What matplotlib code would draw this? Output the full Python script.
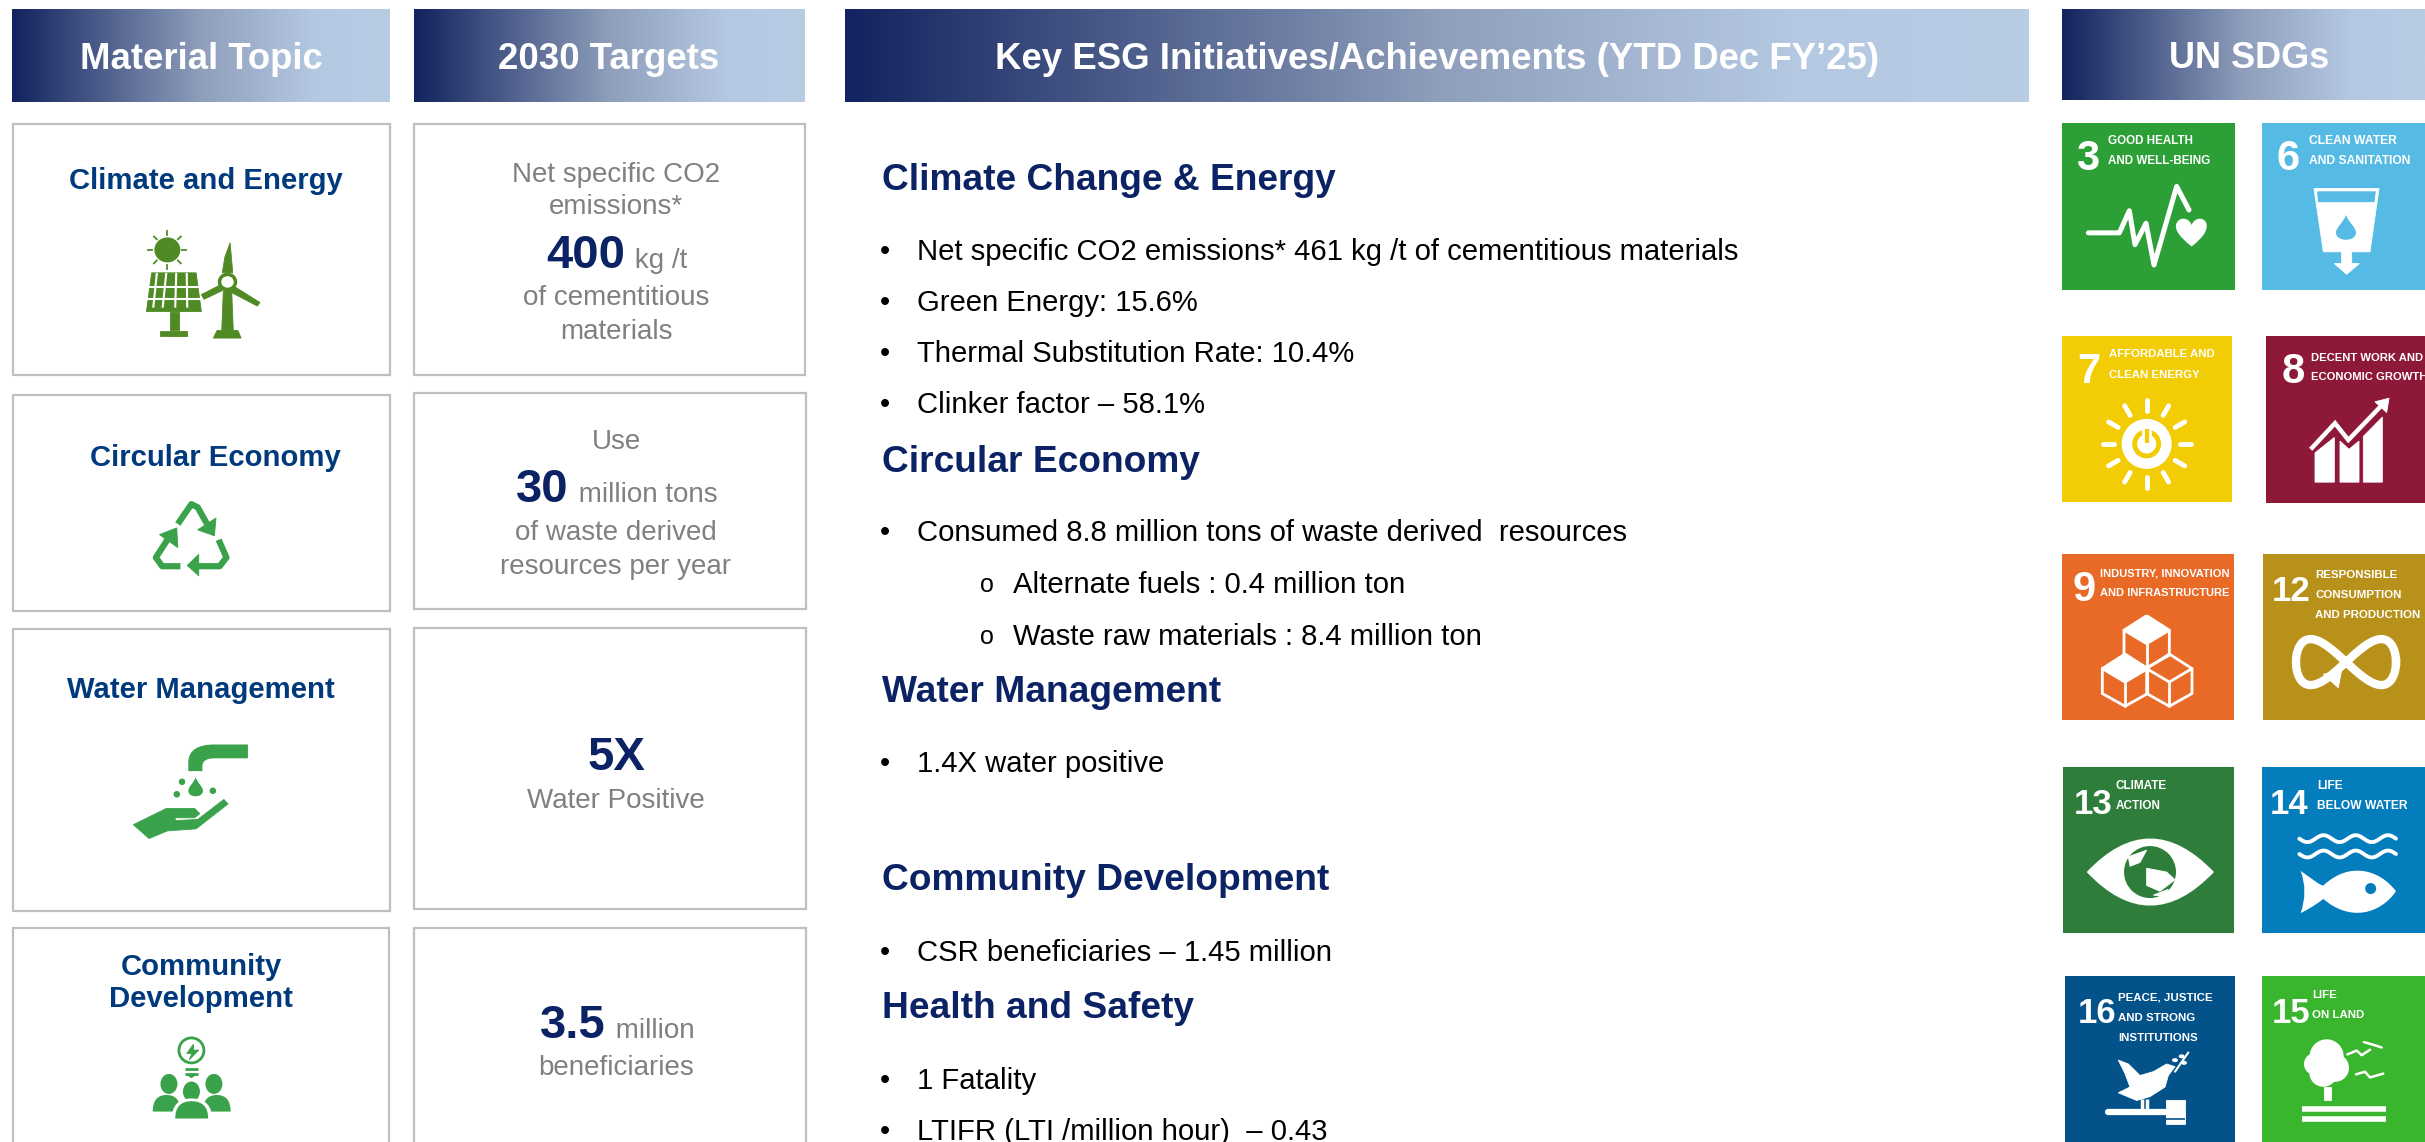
import numpy as np
import matplotlib
matplotlib.use('Agg')
import matplotlib.pyplot as plt
from matplotlib.colors import LinearSegmentedColormap
from matplotlib.patches import Circle, Ellipse, PathPatch, Polygon, Rectangle
from matplotlib.path import Path

plt.rcParams['font.family'] = ['Liberation Sans', 'DejaVu Sans']

NAVY = '#0B2265'
TITLE_BLUE = '#003A7D'
GREY = '#808080'
BORDER = '#BFBFBF'
GREEN = '#3AA24A'
DARK_GREEN = '#4F8A24'

# テキスト
header_labels = ['Material Topic', '2030 Targets',
                 'Key ESG Initiatives/Achievements (YTD Dec FY’25)', 'UN SDGs']
topic_labels = ['Climate and Energy', 'Circular Economy', 'Water Management',
                'Community\nDevelopment']
target_big = ['400', '30', '5X', '3.5']
target_unit = [' kg /t', ' million tons', '', ' million']
target_above = ['Net specific CO2\nemissions*', 'Use', '', '']
target_below = ['of cementitious\nmaterials', 'of waste derived\nresources per year',
                'Water Positive', 'beneficiaries']

section_titles = ['Climate Change & Energy', 'Circular Economy', 'Water Management',
                  'Community Development', 'Health and Safety']
section_lines = [
    ['Net specific CO2 emissions* 461 kg /t of cementitious materials',
     'Green Energy: 15.6%',
     'Thermal Substitution Rate: 10.4%',
     'Clinker factor – 58.1%'],
    ['Consumed 8.8 million tons of waste derived  resources',
     '>Alternate fuels : 0.4 million ton',
     '>Waste raw materials : 8.4 million ton'],
    ['1.4X water positive'],
    ['CSR beneficiaries – 1.45 million'],
    ['1 Fatality',
     'LTIFR (LTI /million hour)  – 0.43'],
]

sdg_numbers = ['3', '6', '7', '8', '9', '12', '13', '14', '16', '15']
sdg_labels = [
    'GOOD HEALTH\nAND WELL-BEING', 'CLEAN WATER\nAND SANITATION',
    'AFFORDABLE AND\nCLEAN ENERGY', 'DECENT WORK AND\nECONOMIC GROWTH',
    'INDUSTRY, INNOVATION\nAND INFRASTRUCTURE', 'RESPONSIBLE\nCONSUMPTION\nAND PRODUCTION',
    'CLIMATE\nACTION', 'LIFE\nBELOW WATER',
    'PEACE, JUSTICE\nAND STRONG\nINSTITUTIONS', 'LIFE\nON LAND',
]
sdg_colors = ['#2CA036', '#56BBE4', '#F2CC04', '#8E1838', '#E96A27',
              '#B8911A', '#2E7D3A', '#047DBD', '#03528A', '#39B52E']

fig = plt.figure(figsize=(24.25, 11.42), dpi=100)
ax = fig.add_axes([0, 0, 1, 1])
ax.set_xlim(0, 2425)
ax.set_ylim(1142, 0)
ax.axis('off')
renderer = fig.canvas.get_renderer()

# ズーム画像の座標をピクセルに変換
def z1(x, y):
    return (x / 1.912, y / 2.529)

def z2(x, y):
    return (x / 1.912, 600 + y / 2.893)

def z3(x, y):
    return (2040 + x / 3, y / 2.8)

def z4(x, y):
    return (2040 + x / 3, 540 + y / 2.605)


def poly(pts, z, color='white', zorder=3):
    ax.add_patch(Polygon([z(*p) for p in pts], closed=True, fc=color, ec=color, lw=0.6, zorder=zorder))


def line(pts, z, lw, color='white', zorder=3, cap='round', join='miter'):
    xy = np.array([z(*p) for p in pts])
    ax.plot(xy[:, 0], xy[:, 1], color=color, lw=lw, zorder=zorder,
            solid_capstyle=cap, solid_joinstyle=join)


def curve(verts, codes, z, color='white', zorder=3):
    path = Path([z(*v) for v in verts], codes)
    ax.add_patch(PathPatch(path, fc=color, ec='none', zorder=zorder))


def drop(x, y, w, h, z, color, zorder=3):
    # 水滴
    M, C, CL = Path.MOVETO, Path.CURVE4, Path.CLOSEPOLY
    curve([(x, y - h), (x + w * 0.3, y - h * 0.4), (x + w, y - h * 0.1), (x + w, y + h * 0.3),
           (x + w, y + h), (x - w, y + h), (x - w, y + h * 0.3),
           (x - w, y - h * 0.1), (x - w * 0.3, y - h * 0.4), (x, y - h), (x, y - h)],
          [M, C, C, C, C, C, C, C, C, C, CL], z, color, zorder)


# ヘッダーのグラデーション
cmap = LinearSegmentedColormap.from_list('hdr', [(0, '#12235F'), (0.5, '#8E9EBB'),
                                                 (0.8, '#B5C8E2'), (1, '#B8CCE4')])
grad = np.linspace(0, 1, 256).reshape(1, -1)
header_boxes = [(12, 390, 9, 102), (414, 805, 9, 102), (845, 2029, 9, 102), (2062, 2425, 9, 100)]
header_cx = [201, 609, 1437, 2249]
header_size = [26.3, 26.4, 26.35, 26]
for label, (x0, x1, y0, y1), cx, fs in zip(header_labels, header_boxes, header_cx, header_size):
    ax.imshow(grad, cmap=cmap, extent=(x0, x1, y1, y0), aspect='auto', zorder=1)
    ax.text(cx, (y0 + y1) / 2 + 4, label, color='white', fontsize=fs, fontweight='bold',
            ha='center', va='center', zorder=2)
ax.set_xlim(0, 2425)
ax.set_ylim(1142, 0)

# カード
topic_boxes = [(13, 390, 124, 375), (13, 390, 395, 611), (13, 390, 629, 911), (13, 389, 928, 1160)]
target_boxes = [(414, 805, 124, 375), (414, 806, 393, 609), (414, 806, 628, 909), (414, 806, 928, 1160)]
for x0, x1, y0, y1 in topic_boxes + target_boxes:
    ax.add_patch(Rectangle((x0, y0), x1 - x0, y1 - y0, fc='white', ec=BORDER, lw=1.6, zorder=1))

topic_x = [206, 215, 201, 201]
topic_y = [181, 458, 690, 983]
for label, x, y in zip(topic_labels, topic_x, topic_y):
    ax.text(x, y, label, color=TITLE_BLUE, fontsize=21.1, fontweight='bold', ha='center',
            va='center', linespacing=1.2)

# 目標の数値と説明
target_cx = 616
big_base = [268, 502, 770, 1038]
above_y = [[175, 207], [442], [], []]
below_y = [[298, 332], [533, 567], [801], [1068]]
for i in range(4):
    big = ax.text(0, big_base[i], target_big[i], color=NAVY, fontsize=34, fontweight='bold',
                  ha='left', va='baseline')
    unit = ax.text(0, big_base[i], target_unit[i], color=GREY, fontsize=20, ha='left', va='baseline')
    w_big = big.get_window_extent(renderer).width
    w_unit = unit.get_window_extent(renderer).width if target_unit[i] else 0
    x_start = target_cx - (w_big + w_unit) / 2
    big.set_x(x_start)
    unit.set_x(x_start + w_big + 2)
    if target_above[i]:
        for txt, y in zip(target_above[i].split('\n'), above_y[i]):
            ax.text(target_cx, y, txt, color=GREY, fontsize=20, ha='center', va='center')
    for txt, y in zip(target_below[i].split('\n'), below_y[i]):
        ax.text(target_cx, y, txt, color=GREY, fontsize=20, ha='center', va='center')

# 中央のテキスト
section_y = [181, 462, 693, 880, 1008]
line_y = [[252, 303, 354, 405], [533, 585, 637], [764], [953], [1081, 1132]]
for title, y, lines, ys in zip(section_titles, section_y, section_lines, line_y):
    ax.text(882, y, title, color=NAVY, fontsize=26.7, fontweight='bold', ha='left', va='center')
    for txt, ly in zip(lines, ys):
        if txt.startswith('>'):
            ax.text(987, ly, 'o', color='black', fontsize=18, ha='center', va='center')
            ax.text(1013, ly, txt[1:], color='black', fontsize=21.1, ha='left', va='center')
        else:
            ax.text(885, ly, '•', color='black', fontsize=21, ha='center', va='center')
            ax.text(917, ly, txt, color='black', fontsize=21.1, ha='left', va='center')

# 左のアイコン: 太陽光と風車
ax.add_patch(Ellipse(z1(320, 632), 26, 25, fc=DARK_GREEN, ec='none', zorder=3))
for a in np.arange(0, 360, 45):
    cx, cy = z1(320, 632)
    ax.plot([cx + 15 * np.cos(np.radians(a)), cx + 19 * np.cos(np.radians(a))],
            [cy + 15 * np.sin(np.radians(a)), cy + 19 * np.sin(np.radians(a))],
            color=DARK_GREEN, lw=1.3, zorder=3)
poly([(290, 690), (375, 690), (385, 788), (280, 788)], z1, DARK_GREEN)
for fy in [725, 755]:
    line([(280, fy), (385, fy)], z1, 1.5, 'white', 4, 'butt')
for fx in [(300, 293), (318, 311), (337, 335), (357, 358)]:
    line([(fx[0], 690), (fx[1], 778)], z1, 1.5, 'white', 4, 'butt')
poly([(325, 790), (342, 790), (342, 835), (325, 835)], z1, DARK_GREEN)
poly([(306, 837), (358, 837), (358, 850), (306, 850)], z1, DARK_GREEN)
poly([(427, 735), (443, 735), (446, 835), (424, 835)], z1, DARK_GREEN)
poly([(408, 855), (415, 836), (455, 836), (461, 855)], z1, DARK_GREEN)
poly([(440, 614), (445, 690), (425, 690), (430, 650)], z1, DARK_GREEN)
poly([(445, 722), (497, 765), (492, 774), (440, 738)], z1, DARK_GREEN)
poly([(425, 718), (385, 745), (390, 757), (425, 735)], z1, DARK_GREEN)
ax.add_patch(Ellipse(z1(435, 713), 16, 15, fc='white', ec=DARK_GREEN, lw=2.5, zorder=4))

# 左のアイコン: リサイクル
line([(340, 1325), (366, 1275), (378, 1283), (400, 1335)], z1, 4.5, GREEN, 3, 'butt', 'round')
poly([(413, 1310), (410, 1355), (378, 1340)], z1, GREEN)
line([(345, 1432), (310, 1432), (298, 1410), (325, 1355)], z1, 4.5, GREEN, 3, 'butt', 'round')
poly([(338, 1335), (340, 1385), (305, 1352)], z1, GREEN)
line([(418, 1365), (433, 1410), (420, 1432), (378, 1432)], z1, 4.5, GREEN, 3, 'butt', 'round')
poly([(380, 1402), (380, 1456), (358, 1430)], z1, GREEN)

# 左のアイコン: 水と手
M, L, Q, CL = Path.MOVETO, Path.LINETO, Path.CURVE3, Path.CLOSEPOLY
curve([(474, 418), (474, 458), (410, 458), (387, 458), (387, 480), (387, 495), (360, 495),
       (360, 470), (360, 418), (410, 418), (474, 418)],
      [M, L, L, Q, Q, L, L, L, Q, Q, CL], z2, GREEN)
drop(374, 543, 14, 30, z2, GREEN)
for p in [(348, 526), (338, 562), (407, 552)]:
    ax.add_patch(Ellipse(z2(*p), 6.5, 6.5, fc=GREEN, ec='none', zorder=3))
poly([(255, 650), (318, 603), (372, 603), (382, 618), (372, 630), (335, 630), (335, 638),
      (378, 635), (428, 577), (436, 590), (375, 662), (320, 668), (285, 690)], z2, GREEN)

# 左のアイコン: コミュニティ
ax.add_patch(Ellipse(z2(366, 1303), 25, 25, fc='white', ec=GREEN, lw=2, zorder=3))
poly([(370, 1285), (357, 1312), (367, 1312), (362, 1330), (380, 1302), (370, 1302)], z2, GREEN)
for yy in [1358, 1370]:
    line([(354, yy), (378, yy)], z2, 2, GREEN, 3, 'butt')
poly([(358, 1374), (374, 1374), (366, 1382)], z2, GREEN)
for p, h in [((323, 1400), 20), ((409, 1400), 20), ((366, 1422), 20)]:
    ax.add_patch(Ellipse(z2(*p), 17, h, fc=GREEN, ec='none', zorder=3))
for x0, x1, y0, y1 in [(292, 345, 1432, 1480), (388, 441, 1432, 1480)]:
    curve([(x0, y1), (x0, y0), ((x0 + x1) / 2, y0), (x1, y0), (x1, y1), (x0, y1)],
          [M, Q, Q, Q, Q, CL], z2, GREEN)
curve([(328, 1505), (328, 1442), (366, 1442), (406, 1442), (406, 1505), (328, 1505)],
      [M, Q, Q, Q, Q, CL], z2, 'white', 4)
curve([(335, 1500), (335, 1450), (366, 1450), (398, 1450), (398, 1500), (335, 1500)],
      [M, Q, Q, Q, Q, CL], z2, GREEN, 5)

# SDGタイル
tile_boxes = [(2062, 2235, 123, 290), (2262, 2425, 123, 290),
              (2062, 2232, 336, 502), (2266, 2425, 336, 503),
              (2062, 2234, 554, 720), (2263, 2425, 554, 720),
              (2063, 2234, 767, 933), (2262, 2425, 767, 933),
              (2065, 2235, 976, 1150), (2262, 2425, 976, 1150)]
num_x = [2076, 2276, 2077, 2282, 2072, 2272, 2074, 2270, 2078, 2272]
lab_x = [2108, 2309, 2109, 2311, 2100, 2315, 2116, 2317, 2118, 2312]
lab_width = [101, 101, 106, 112, 129, 105, 51, 90, 94, 52]
lab_step = [20, 20, 21, 19.5, 20, 20, 20, 20, 20, 20]
lab_top = [141, 141, 354, 358, 573, 575, 786, 786, 998, 995]
for i, (x0, x1, y0, y1) in enumerate(tile_boxes):
    ax.add_patch(Rectangle((x0, y0), x1 - x0, y1 - y0, fc=sdg_colors[i], ec='none', zorder=2))
    num_size = 30 if len(sdg_numbers[i]) == 1 else 25
    ax.text(num_x[i], y0 + 47, sdg_numbers[i], color='white', fontsize=num_size, fontweight='bold',
            ha='left', va='baseline', zorder=3)
    label_lines = sdg_labels[i].split('\n')
    # 一番長い行を幅に合わせる
    longest = max(label_lines, key=len)
    probe = ax.text(0, 0, longest, fontsize=10, fontweight='bold')
    size = 10 * lab_width[i] / probe.get_window_extent(renderer).width
    probe.remove()
    for k, txt in enumerate(label_lines):
        ax.text(lab_x[i], lab_top[i] + k * lab_step[i], txt, color='white', fontsize=size,
                fontweight='bold', ha='left', va='center', zorder=3)

# 3: 心拍
line([(145, 652), (238, 652), (268, 590), (285, 685), (318, 625), (342, 742), (410, 522), (447, 588)],
     z3, 3.6, 'white', 3, 'round', 'round')
C = Path.CURVE4
curve([(455, 690), (420, 665), (405, 645), (408, 630), (412, 608), (445, 605), (455, 630),
       (465, 605), (498, 608), (500, 630), (502, 645), (490, 665), (455, 690), (455, 690)],
      [M, C, C, C, C, C, C, C, C, C, C, C, C, CL], z3)

# 6: 水
poly([(822, 528), (1017, 528), (990, 705), (850, 705)], z3)
poly([(833, 537), (1006, 537), (1002, 565), (835, 565)], z3, sdg_colors[1], 4)
drop(918, 640, 30, 38, z3, sdg_colors[1], 4)
poly([(905, 700), (935, 700), (935, 738), (958, 738), (920, 768), (883, 738), (905, 738)], z3)

# 7: 太陽
sun = z3(320, 1243)
ax.add_patch(Circle(sun, 25, fc='white', ec='none', zorder=3))
ax.add_patch(Circle(sun, 12, fc='none', ec=sdg_colors[2], lw=3.5, zorder=4))
line([(320, 1195), (320, 1245)], z3, 7, 'white', 5, 'butt')
line([(320, 1200), (320, 1240)], z3, 3, sdg_colors[2], 6, 'butt')
for a in np.arange(0, 360, 30):
    ca, sa = np.cos(np.radians(a)), np.sin(np.radians(a))
    ax.plot([sun[0] + 33 * ca, sun[0] + 44 * ca], [sun[1] + 33 * sa, sun[1] + 44 * sa],
            color='white', lw=3.5, zorder=3, solid_capstyle='round')

# 8: 成長グラフ
poly([(825, 1268), (883, 1225), (883, 1350), (825, 1350)], z3)
poly([(900, 1235), (927, 1258), (957, 1235), (957, 1350), (900, 1350)], z3)
poly([(970, 1222), (1027, 1168), (1027, 1350), (970, 1350)], z3)
line([(812, 1258), (885, 1185), (925, 1232), (1025, 1135)], z3, 4.5, sdg_colors[3], 4, 'butt')
line([(812, 1258), (885, 1185), (925, 1232), (1025, 1135)], z3, 3.2, 'white', 5, 'butt')
poly([(1047, 1115), (1040, 1155), (1005, 1125)], z3, 'white', 5)


# 9: キューブ
def cube(cx, cy, filled):
    hex_pts = [(cx, cy - 68), (cx + 68, cy - 30), (cx + 68, cy + 35), (cx, cy + 68),
               (cx - 68, cy + 35), (cx - 68, cy - 30)]
    line(hex_pts + [hex_pts[0]], z4, 2, 'white', 3, 'butt')
    if filled:
        poly([(cx, cy - 68), (cx + 68, cy - 30), (cx, cy + 5), (cx - 68, cy - 30)], z4)
    line([(cx - 68, cy - 30), (cx, cy + 5), (cx + 68, cy - 30)], z4, 2)
    line([(cx, cy + 5), (cx, cy + 68)], z4, 2)


cube(320, 265, True)
cube(255, 365, True)
cube(388, 365, False)

# 12: 無限大
t = np.linspace(0, 2 * np.pi, 200)
cx, cy = z4(918, 318)
ax.plot(cx + 50 * np.cos(t), cy + 23 * np.sin(2 * t), color='white', lw=6, zorder=3)
poly([(905, 338), (895, 385), (850, 350)], z4)

# 13: 目
curve([(140, 865), (330, 690), (522, 865), (330, 1040), (140, 865)], [M, Q, Q, Q, Q], z4)
earth = z4(330, 865)
ax.add_patch(Circle(earth, 26, fc=sdg_colors[6], ec='none', zorder=4))
poly([(265, 825), (320, 808), (300, 840), (270, 850)], z4, 'white', 5)
poly([(320, 855), (380, 865), (405, 885), (360, 915), (320, 900)], z4, 'white', 5)
poly([(340, 925), (385, 910), (375, 930)], z4, 'white', 5)

# 14: 魚と波
wave_x = np.linspace(778, 1068, 80)
for wy in [778, 818]:
    line(list(zip(wave_x, wy + 9 * np.sin((wave_x - 778) / 290 * 3 * 2 * np.pi))), z4, 2.8, 'white', 3, 'round', 'round')
curve([(782, 862), (820, 885), (840, 900), (850, 900), (930, 835), (1020, 860), (1068, 915),
       (1020, 975), (930, 995), (850, 935), (835, 945), (820, 955), (782, 972), (805, 915), (782, 862)],
      [M, C, C, C, C, C, C, C, C, C, C, C, C, Q, Q], z4)
ax.add_patch(Ellipse(z4(992, 908), 11, 11, fc=sdg_colors[7], ec='none', zorder=4))

# 16: 鳩と槌
poly([(235, 1355), (265, 1365), (300, 1395), (340, 1385), (380, 1365), (405, 1372), (385, 1395),
      (375, 1425), (330, 1450), (290, 1460), (235, 1440), (270, 1425), (255, 1390)], z4)
line([(405, 1385), (445, 1335)], z4, 1.5)
for p in [(425, 1345), (405, 1355), (432, 1362)]:
    ax.add_patch(Ellipse(z4(*p), 6, 4, fc='white', ec='none', zorder=3))
line([(305, 1455), (305, 1485)], z4, 2.5, 'white', 3, 'butt')
line([(320, 1455), (320, 1485)], z4, 2.5, 'white', 3, 'butt')
line([(205, 1490), (380, 1490)], z4, 4.5)
poly([(378, 1458), (435, 1458), (435, 1522), (378, 1522)], z4)
line([(378, 1508), (435, 1508)], z4, 1.2, sdg_colors[8], 4, 'butt')

# 15: 木と鳥
for p, r in [((860, 1345), 17), ((825, 1365), 11), ((885, 1375), 14), ((850, 1388), 14)]:
    ax.add_patch(Circle(z4(*p), r, fc='white', ec='none', zorder=3))
poly([(853, 1425), (873, 1425), (873, 1460), (853, 1460)], z4)
line([(787, 1482), (1037, 1482)], z4, 4, 'white', 3, 'butt')
line([(787, 1507), (1037, 1507)], z4, 4, 'white', 3, 'butt')
for bird in [[(922, 1340), (950, 1330), (965, 1342), (990, 1328)],
             [(972, 1308), (1000, 1315), (1025, 1322)],
             [(948, 1392), (975, 1385), (990, 1400), (1030, 1390)]]:
    line(bird, z4, 1.8, 'white', 3, 'round', 'round')

fig.savefig('out.png', dpi=100)
